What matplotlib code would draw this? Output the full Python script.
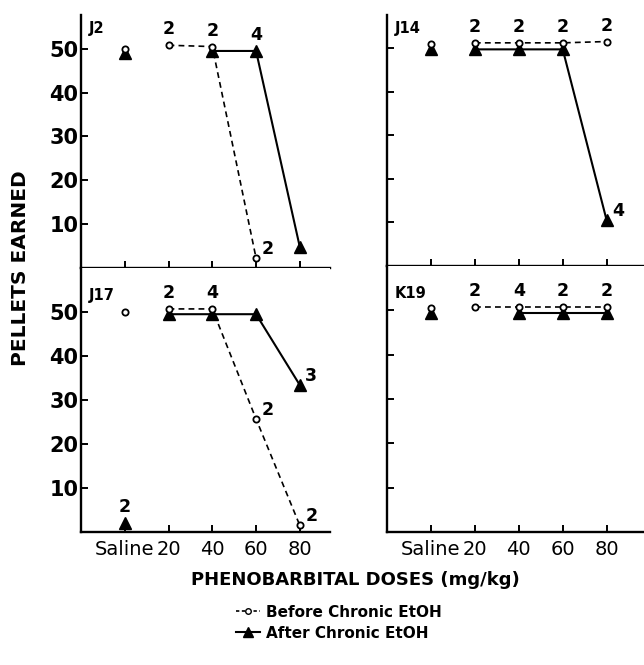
import matplotlib
matplotlib.use("Agg")
import matplotlib.pyplot as plt
from matplotlib.lines import Line2D

plt.rcParams['font.family'] = ['DejaVu Sans']

doses = ["Saline", "20", "40", "60", "80"]
x_pos = [0, 1, 2, 3, 4]

# before chronic EtOH (open circles, dashed); None = no point
j2_before = [50, 50.8, 50.5, 2.3, None]
j2_after = [49, None, 49.5, 49.5, 4.8]
j14_before = [51, 51.3, 51.3, 51.3, 51.6]
j14_after = [49.8, 49.8, 49.8, 49.8, 10.5]
j17_before = [50, 50.7, 50.7, 25.7, 1.5]
j17_after = [2, 49.5, 49.5, 49.5, 33.4]
k19_before = [50.5, 50.7, 50.7, 50.7, 50.7]
k19_after = [49.3, None, 49.3, 49.3, 49.3]

# n per point: (series, dose index, n, side)
j2_n = [("b", 1, "2", "up"), ("b", 2, "2", "up"), ("a", 3, "4", "up"), ("b", 3, "2", "right")]
j14_n = [("b", 1, "2", "up"), ("b", 2, "2", "up"), ("b", 3, "2", "up"), ("b", 4, "2", "up"),
         ("a", 4, "4", "right")]
j17_n = [("a", 0, "2", "up"), ("b", 1, "2", "up"), ("b", 2, "4", "up"), ("b", 3, "2", "right"),
         ("a", 4, "3", "right"), ("b", 4, "2", "right")]
k19_n = [("b", 1, "2", "up"), ("b", 2, "4", "up"), ("b", 3, "2", "up"), ("b", 4, "2", "up")]

panels = [
    ("J2", j2_before, j2_after, j2_n),
    ("J14", j14_before, j14_after, j14_n),
    ("J17", j17_before, j17_after, j17_n),
    ("K19", k19_before, k19_after, k19_n),
]

fig = plt.figure(figsize=(6.44, 6.65), dpi=100)
W, H = 644, 665
boxes = [  # left, top, right, bottom in pixels
    (81, 15, 330, 268),
    (387, 15, 644, 266),
    (81, 268, 330, 532),
    (387, 266, 644, 532),
]
ylims = [57.7, 57.7, 60, 60]
name_y = [0.975, 0.975, 0.925, 0.925]

for i, (name, before, after, ns) in enumerate(panels):
    l, t, r, b = boxes[i]
    ax = fig.add_axes([l / W, 1 - b / H, (r - l) / W, (b - t) / H])
    ax.set_xlim(-1.0, 4.69 if i % 2 == 0 else 4.85)
    ax.set_ylim(0, ylims[i])
    for s in ["top", "right"]:
        ax.spines[s].set_visible(False)
    for s in ["left", "bottom"]:
        ax.spines[s].set_linewidth(1.7)

    # lines connect doses 20-80 only
    bx = [x for x, v in zip(x_pos[1:], before[1:]) if v is not None]
    by = [v for v in before[1:] if v is not None]
    ax_ = [x for x, v in zip(x_pos[1:], after[1:]) if v is not None]
    ay = [v for v in after[1:] if v is not None]
    ax.plot(ax_, ay, color="black", lw=1.5, zorder=2)
    ax.plot(bx, by, color="black", lw=1.2, ls=(0, (3.5, 2.5)), zorder=2)
    ax.plot([x for x, v in zip(x_pos, after) if v is not None],
            [v for v in after if v is not None], ls="none", marker="^",
            ms=8, color="black", zorder=3)
    ax.plot([x for x, v in zip(x_pos, before) if v is not None],
            [v for v in before if v is not None], ls="none", marker="o",
            ms=4.5, mfc="white", mec="black", mew=1.3, zorder=4)

    for ser, k, txt, side in ns:
        yv = before[k] if ser == "b" else after[k]
        if side == "up":
            ax.annotate(txt, (x_pos[k], yv), xytext=(0, 5), textcoords="offset points",
                        ha="center", va="bottom", fontsize=12.5, fontweight="bold")
        else:
            ax.annotate(txt, (x_pos[k], yv), xytext=(4, 0), textcoords="offset points",
                        ha="left", va="bottom", fontsize=12.5, fontweight="bold")

    ax.text(0.03, name_y[i], name, transform=ax.transAxes, fontsize=10.5,
            fontweight="bold", va="top", ha="left")

    ax.set_xticks(x_pos)
    ax.set_yticks([10, 20, 30, 40, 50])
    ax.tick_params(direction="in", length=5, width=1.4, pad=3)
    ax.tick_params(axis="y", pad=2)
    if i >= 2:
        ax.set_xticklabels(doses, fontsize=14)
        ax.tick_params(axis="x", pad=6)
    else:
        ax.set_xticklabels([])
    if i % 2 == 0:
        ax.set_yticklabels([str(v) for v in [10, 20, 30, 40, 50]], fontsize=15,
                           fontweight="bold")
    else:
        ax.set_yticklabels([])

fig.text(21 / W, 1 - 268 / H, "PELLETS EARNED", rotation=90, ha="center",
         va="center", fontsize=14.5, fontweight="bold")
fig.text(355 / W, 1 - 580 / H, "PHENOBARBITAL DOSES (mg/kg)", ha="center",
         va="center", fontsize=13, fontweight="bold")

handles = [
    Line2D([], [], color="black", lw=1.2, ls=(0, (2, 1.5)), marker="o", ms=4,
           mfc="white", mec="black", markevery=[0, 1]),
    Line2D([], [], color="black", lw=1.5, marker="^", ms=7),
]
fig.legend(handles, ["Before Chronic EtOH", "After Chronic EtOH"],
           loc="upper left", bbox_to_anchor=(228 / W, 1 - 597 / H), frameon=False,
           prop={"size": 11, "weight": "bold"}, handlelength=1.6,
           handletextpad=0.4, labelspacing=0.4, borderpad=0)

fig.savefig("out.png", dpi=100)
